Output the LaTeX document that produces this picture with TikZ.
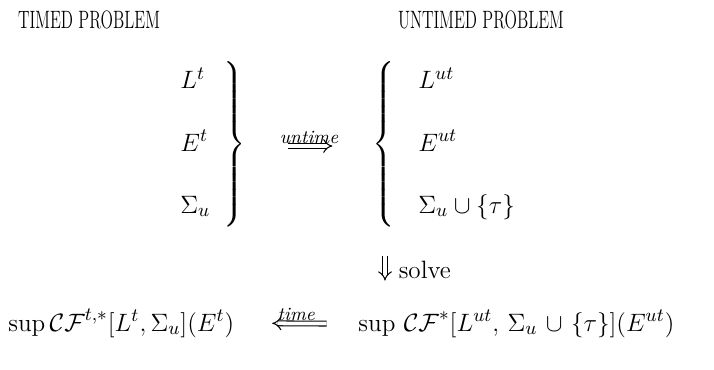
\documentclass[tikz,border=0pt]{standalone}
\usepackage{amsmath}
\usepackage{graphicx}
\usepackage{tikz}
\usetikzlibrary{arrows.meta}

\begin{document}
\begin{tikzpicture}[
x=0.0168cm, y=-0.0168cm,
head/.style={font=\large},
term/.style={anchor=base west, inner sep=0pt, font=\fontsize{12.5}{15}\selectfont},
result/.style={anchor=base west, inner sep=0pt, font=\fontsize{13}{16}\selectfont},
curly/.style={inner sep=0pt, font=\large},
implies/.style={double, double distance=1.8pt, line width=0.5pt, -{Implies}},
lbl/.style={font=\small\itshape, inner sep=1pt}
]
\useasboundingbox (0,0) rectangle (714,369);
% headings
\node[head] (tHead) at (89,20) {\scalebox{0.65}[1]{TIMED PROBLEM}};
\node[head] (uHead) at (481,20) {\scalebox{0.65}[1]{UNTIMED PROBLEM}};
% timed side
\node[term] (tL) at (180,89) {$L^t$};
\node[term] (tE) at (180,151) {$E^t$};
\node[term] (tS) at (180,213) {$\Sigma_u$};
\node[curly] (tBrace) at (233,146) {$\left.\vrule height 38pt depth 38pt width 0pt\right\}$};
% untimed side
\node[curly] (uBrace) at (385,146) {$\left\{\vrule height 38pt depth 38pt width 0pt\right.$};
\node[term] (uL) at (418,89) {$L^{ut}$};
\node[term] (uE) at (418,151) {$E^{ut}$};
\node[term] (uS) at (418,213) {$\Sigma_u \cup \{\tau\}$};
% results
\node[result] (cfT) at (8,331) {$\sup \mathcal{CF}^{t,*}[L^t,\Sigma_u](E^t)$};
\node[result] (cfU) at (358,331) {\medmuskip=6mu plus 2mu minus 2mu
  $\sup\, \mathcal{CF}^{*}[L^{ut},\,\Sigma_u \cup \{\tau\}](E^{ut})$};
% arrows
\draw[implies, shorten <=20pt, shorten >=19pt] (tBrace.east) -- node[lbl, above] {untime} (uBrace.west);
\draw[implies, shorten <=12pt, shorten >=14pt] (uBrace.south) -- node[right, font=\large, xshift=3pt] {solve} (uBrace.south |- cfU.north);
\draw[implies, shorten <=15pt, shorten >=18pt] (cfU.west) -- node[lbl, above] {time} (cfT.east);
\end{tikzpicture}
\end{document}
